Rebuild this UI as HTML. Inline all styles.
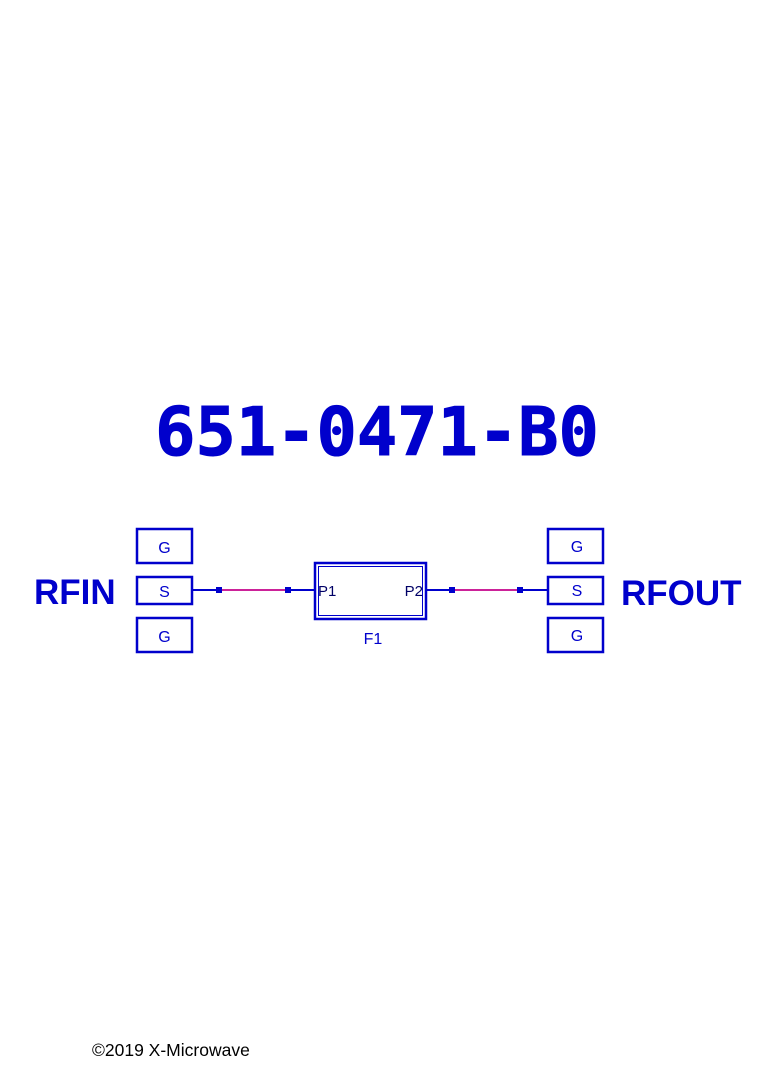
<!DOCTYPE html>
<html><head><meta charset="utf-8"><style>
html,body{margin:0;padding:0;background:#fff;}
svg{display:block;}
</style></head><body>
<svg width="768" height="1086" viewBox="0 0 768 1086" xmlns="http://www.w3.org/2000/svg">
<rect width="768" height="1086" fill="#fff"/>
<text x="377" y="455" text-anchor="middle" font-family="DejaVu Sans Mono, Liberation Mono, monospace" font-weight="bold" font-size="67" fill="#0000cc" stroke="#0000cc" stroke-width="1">651-0471-B0</text>
<g fill="none" stroke="#0000cc" stroke-width="2.5">
<rect x="137" y="529" width="55" height="34"/>
<rect x="137" y="577" width="55" height="27"/>
<rect x="137" y="618" width="55" height="34"/>
<rect x="548" y="529" width="55" height="34"/>
<rect x="548" y="577" width="55" height="27"/>
<rect x="548" y="618" width="55" height="34"/>
<rect x="315" y="563" width="111" height="56"/>
</g>
<rect x="318.5" y="566.5" width="104" height="49" fill="none" stroke="#0000cc" stroke-width="1"/>
<g stroke="#0000cc" stroke-width="2">
<line x1="192" y1="590" x2="219" y2="590"/>
<line x1="288" y1="590" x2="315" y2="590"/>
<line x1="426" y1="590" x2="452" y2="590"/>
<line x1="520" y1="590" x2="548" y2="590"/>
</g>
<g stroke="#cc2299" stroke-width="2">
<line x1="219" y1="590" x2="288" y2="590"/>
<line x1="452" y1="590" x2="520" y2="590"/>
</g>
<g fill="#0000cc">
<rect x="216" y="587" width="6" height="6"/>
<rect x="285" y="587" width="6" height="6"/>
<rect x="449" y="587" width="6" height="6"/>
<rect x="517" y="587" width="6" height="6"/>
</g>
<g font-family="Liberation Sans, Arial, sans-serif" font-size="16" fill="#0000cc" text-anchor="middle">
<text x="164.5" y="553">G</text>
<text x="164.5" y="597">S</text>
<text x="164.5" y="642">G</text>
<text x="577" y="552">G</text>
<text x="577" y="596">S</text>
<text x="577" y="641">G</text>
<text x="373" y="644">F1</text>
</g>
<g font-family="Liberation Sans, Arial, sans-serif" font-size="15" fill="#000066">
<text x="318" y="596">P1</text>
<text x="423" y="596" text-anchor="end">P2</text>
</g>
<g font-family="Liberation Sans, Arial, sans-serif" font-weight="bold" font-size="35" fill="#0000cc">
<text x="34" y="604">RFIN</text>
<text x="621" y="605">RFOUT</text>
</g>
<text x="92" y="1056" font-family="Liberation Sans, Arial, sans-serif" font-size="17.5" fill="#000">©2019 X-Microwave</text>
</svg>
</body></html>
